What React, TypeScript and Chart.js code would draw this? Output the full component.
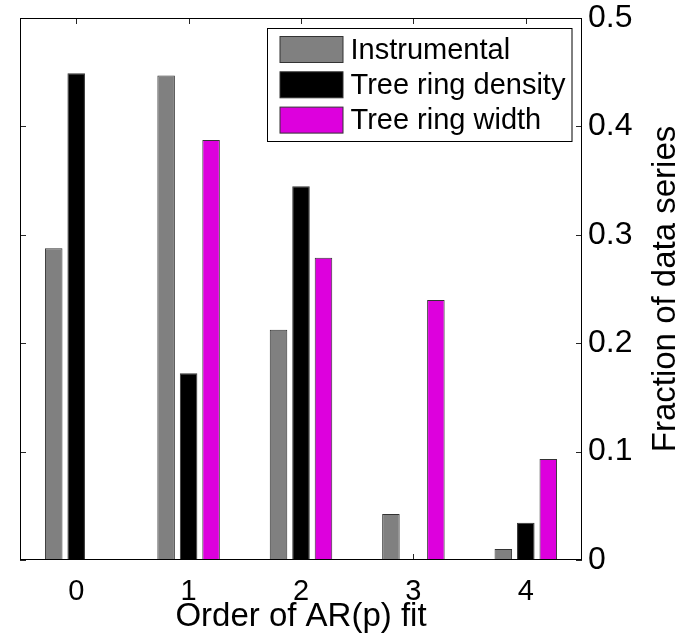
import React, { useEffect, useRef } from 'react';
import { Chart, registerables } from 'chart.js';
Chart.register(...registerables);

const FONT = "'Liberation Sans', Arial, Helvetica, sans-serif";

const categories = ['0', '1', '2', '3', '4'];
const instrumental = [0.2875, 0.447, 0.2125, 0.0424, 0.0101];
const treeRingDensity = [0.449, 0.1722, 0.3447, 0, 0.0344];
const treeRingWidth = [0, 0.3875, 0.2789, 0.2399, 0.0932];
const seriesLabels = ['Instrumental', 'Tree ring density', 'Tree ring width'];
const seriesColors = ['#808080', '#000000', '#dd00dd'];
const yTicks = [0, 0.1, 0.2, 0.3, 0.4, 0.5];
const yTickLabels = ['0', '0.1', '0.2', '0.3', '0.4', '0.5'];
const xTitle = 'Order of AR(p) fit';
const yTitle = 'Fraction of data series';

const framePlugin = {
  id: 'matlabFrame',
  beforeDatasetsDraw(chart: any) {
    const { ctx, chartArea, scales } = chart;
    const { left, right, top, bottom } = chartArea;
    const x = scales.x;
    const y = scales.y;
    ctx.save();
    ctx.strokeStyle = '#262626';
    ctx.lineWidth = 1;
    ctx.beginPath();
    categories.forEach((_c, i) => {
      const px = Math.round(x.getPixelForValue(i)) + 0.5;
      ctx.moveTo(px, bottom);
      ctx.lineTo(px, bottom - 6);
      ctx.moveTo(px, top);
      ctx.lineTo(px, top + 6);
    });
    yTicks.forEach((v) => {
      const py = Math.round(y.getPixelForValue(v)) + 0.5;
      ctx.moveTo(left, py);
      ctx.lineTo(left + 6, py);
      ctx.moveTo(right, py);
      ctx.lineTo(right - 6, py);
    });
    ctx.stroke();
    ctx.restore();
  },
  afterDatasetsDraw(chart: any) {
    const { ctx, chartArea } = chart;
    const { left, right, top, bottom } = chartArea;
    ctx.save();
    ctx.strokeStyle = '#000';
    ctx.lineWidth = 1;
    ctx.strokeRect(left + 0.5, top + 0.5, right - left - 1, bottom - top - 1);

    const lx = 267.5;
    const ly = top + 10.5;
    const lw = right - 10 - lx;
    const lh = 113;
    ctx.fillStyle = '#fff';
    ctx.fillRect(lx, ly, lw, lh);
    ctx.strokeStyle = '#000';
    ctx.strokeRect(lx, ly, lw, lh);
    ctx.font = `29px ${FONT}`;
    ctx.textBaseline = 'middle';
    ctx.textAlign = 'left';
    chart.data.datasets.forEach((ds: any, i: number) => {
      const cy = ly + 21 + i * 35.3;
      ctx.fillStyle = ds.backgroundColor;
      ctx.fillRect(lx + 12.5, cy - 13, 63, 26);
      ctx.strokeStyle = '#333';
      ctx.strokeRect(lx + 12.5, cy - 13, 63, 26);
      ctx.fillStyle = '#000';
      ctx.fillText(ds.label, lx + 83, cy + 1);
    });
    ctx.restore();
  },
  afterDraw(chart: any) {
    const { ctx, chartArea } = chart;
    const { top, bottom } = chartArea;
    ctx.save();
    ctx.translate(675, (top + bottom) / 2);
    ctx.rotate(-Math.PI / 2);
    ctx.font = `33px ${FONT}`;
    ctx.fillStyle = '#000';
    ctx.textAlign = 'center';
    ctx.textBaseline = 'alphabetic';
    ctx.fillText(yTitle, 0, 0);
    ctx.restore();
  },
};

export default function App() {
  const ref = useRef<HTMLCanvasElement | null>(null);
  useEffect(() => {
    if (!ref.current) return;
    Chart.defaults.font.family = FONT;
    const seriesData = [instrumental, treeRingDensity, treeRingWidth];
    const chart = new Chart(ref.current, {
      type: 'bar',
      data: {
        labels: categories,
        datasets: seriesLabels.map((label, i) => ({
          label,
          data: seriesData[i],
          backgroundColor: seriesColors[i],
          borderColor: '#333333',
          borderWidth: 1,
          categoryPercentage: 0.6,
          barPercentage: 0.78,
        })),
      },
      options: {
        responsive: false,
        animation: false,
        layout: { padding: { left: 20, top: 18, right: 0, bottom: 0 } },
        plugins: {
          legend: { display: false },
          tooltip: { enabled: false },
        },
        scales: {
          x: {
            type: 'category',
            offset: true,
            grid: { display: false, drawTicks: false },
            border: { display: false },
            ticks: {
              font: { size: 29, family: FONT },
              color: '#000',
              padding: 15,
              maxRotation: 0,
              autoSkip: false,
            },
            title: {
              display: true,
              text: xTitle,
              font: { size: 33, family: FONT },
              color: '#000',
              padding: { top: 0, bottom: 5 },
            },
            afterFit: (s: any) => {
              s.height = 82;
            },
          },
          y: {
            position: 'right',
            min: 0,
            max: 0.5,
            afterBuildTicks: (s: any) => {
              s.ticks = yTicks.map((v) => ({ value: v }));
            },
            grid: { display: false, drawTicks: false },
            border: { display: false },
            ticks: {
              font: { size: 32, family: FONT, lineHeight: 0.6 },
              color: '#000',
              padding: 6,
              callback: (_v: any, i: number) => yTickLabels[i],
            },
            afterFit: (s: any) => {
              s.width = 100;
            },
          },
        },
      },
      plugins: [framePlugin],
    } as any);
    return () => chart.destroy();
  }, []);
  return (
    <div style={{ position: 'fixed', left: 0, top: 0, width: 682, height: 642, background: '#fff' }}>
      <canvas ref={ref} width={682} height={642} style={{ display: 'block' }} />
    </div>
  );
}
